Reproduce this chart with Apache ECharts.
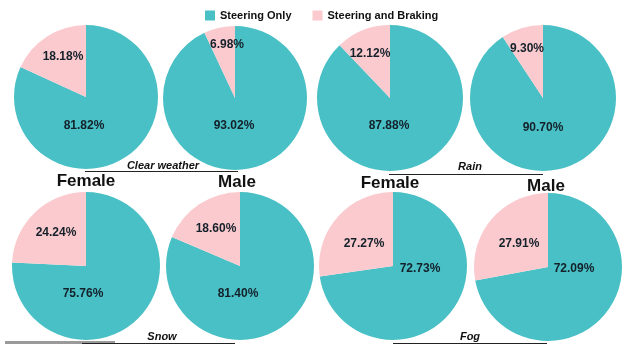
<!DOCTYPE html>
<html>
<head>
<meta charset="utf-8">
<script src="https://cdn.jsdelivr.net/npm/echarts@6/dist/echarts.min.js"></script>
<style>
html,body{margin:0;padding:0;background:#fff;}
#chart{width:634px;height:344px;}
</style>
</head>
<body>
<div id="chart"></div>
<script>
// ---- data ----
var categories = ['Steering Only', 'Steering and Braking'];
var conditions = ['Clear weather', 'Rain', 'Snow', 'Fog'];
var genders = ['Female', 'Male'];
// order: Clear F, Clear M, Rain F, Rain M, Snow F, Snow M, Fog F, Fog M
var steeringOnly = [81.82, 93.02, 87.88, 90.70, 75.76, 81.40, 72.73, 72.09];
var steeringAndBraking = [18.18, 6.98, 12.12, 9.30, 24.24, 18.60, 27.27, 27.91];

// ---- layout ----
var TEAL = '#48C0C5', PINK = '#FBCACE';
var centers = [[86,97],[235,98],[390,98],[543,98],[86,266],[240,266],[393,266],[548,267]];
var radii = [72,72,73,73,74,74,74,74];
// label offsets from pie centre: [teal dx, teal dy, pink dx, pink dy]
var labelOffsets = [
  [-2,29,-23,-40],[-1,28,-8,-53],[-1,28,-20,-44],[0,30,-16,-49],
  [-3,28,-30,-33],[-2,28,-24,-37],[27,3,-29,-22],[26,2,-29,-23]
];

var series = steeringOnly.map(function(v, i){
  return {
    type: 'pie',
    name: conditions[Math.floor(i/2)] + ' ' + genders[i%2],
    center: centers[i],
    radius: [0, radii[i]],
    startAngle: 90,
    clockwise: true,
    silent: true,
    animation: false,
    emphasis: {disabled: true},
    label: {
      show: true,
      position: 'inside',
      formatter: function(p){ return p.value.toFixed(2) + '%'; },
      color: '#14202a',
      fontFamily: 'Liberation Sans, Arial, sans-serif',
      fontWeight: 'bold',
      fontSize: 12
    },
    labelLine: {show: false},
    labelLayout: function(p){
      var o = labelOffsets[i];
      var k = p.dataIndex === 0 ? 0 : 2;
      return {x: centers[i][0] + o[k], y: centers[i][1] + o[k+1], align: 'center', verticalAlign: 'middle'};
    },
    itemStyle: {borderWidth: 0},
    data: [
      {name: categories[0], value: v, itemStyle: {color: TEAL}},
      {name: categories[1], value: steeringAndBraking[i], itemStyle: {color: PINK}}
    ]
  };
});

var font = 'Liberation Sans, Arial, sans-serif';
function txt(x, y, s, size, italic){
  return {type:'text', x:x, y:y, silent:true, z:10,
    style:{text:s, fill:'#111', font:(italic?'italic ':'') + 'bold ' + size + 'px ' + font, textAlign:'center', textVerticalAlign:'middle'}};
}
function ln(x1, x2, y){
  return {type:'line', silent:true, z:9, shape:{x1:x1, y1:y, x2:x2, y2:y}, style:{stroke:'#222', lineWidth:1}};
}

var graphics = [
  txt(163, 166, conditions[0], 11, true), ln(85, 238, 171.5),
  txt(470, 167, conditions[1], 11, true), ln(389, 543, 174.5),
  txt(162, 337, conditions[2], 11, true), ln(82, 235, 343.5),
  txt(470, 337, conditions[3], 11, true), ln(393, 547, 343.5),
  txt(86, 181, genders[0], 17, false),
  txt(237, 182, genders[1], 17, false),
  txt(390, 183, genders[0], 17, false),
  txt(546, 186, genders[1], 17, false),
  {type:'rect', silent:true, z:8, shape:{x:5, y:341, width:110, height:3}, style:{fill:'#9a9a9a'}}
];

var chart = echarts.init(document.getElementById('chart'), null, {renderer:'canvas'});
chart.setOption({
  backgroundColor: '#fff',
  animation: false,
  legend: {
    data: categories,
    left: 205, top: 10,
    padding: 0,
    icon: 'rect',
    itemWidth: 10, itemHeight: 10,
    itemGap: 21,
    selectedMode: false,
    textStyle: {fontFamily: font, fontWeight: 'bold', fontSize: 11, color: '#111'}
  },
  series: series,
  graphic: graphics
});
</script>
</body>
</html>
